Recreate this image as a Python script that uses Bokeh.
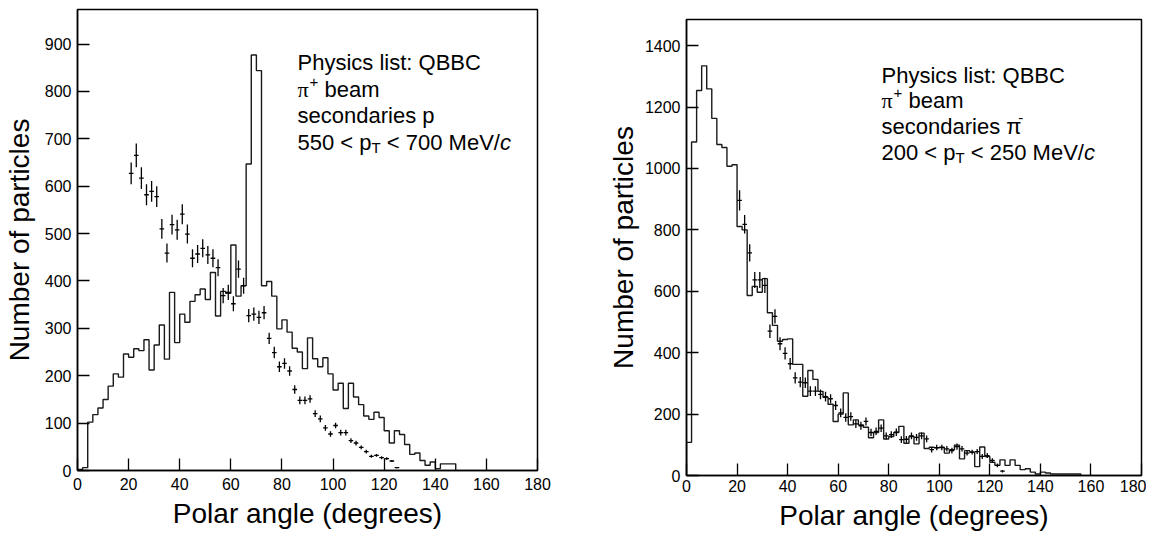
import numpy as np
from bokeh.plotting import figure
from bokeh.layouts import row, column
from bokeh.models import Range1d, FixedTicker, Spacer
from bokeh.core.properties import value
from bokeh.embed import file_html
from bokeh.resources import INLINE

FONT = "Liberation Sans"

# ---------------- data ----------------
bin_width = 2  # degrees

# left panel: simulation histogram (bins of 2 degrees starting at 0)
left_mc = [2, 6, 102, 118, 132, 150, 178, 204, 197, 246,
           239, 257, 253, 276, 212, 265, 307, 235, 376, 270,
           330, 313, 357, 371, 383, 361, 418, 326, 378, 374,
           476, 368, 390, 647, 877, 844, 390, 399, 368, 299,
           318, 292, 258, 250, 215, 280, 236, 219, 238, 204,
           170, 184, 131, 184, 155, 139, 115, 108, 123, 112,
           84, 58, 84, 76, 55, 34, 37, 21, 11, 18,
           4, 14, 14, 14]

# left panel: measured points
left_angle = list(range(21, 127, 2))
left_val = [627, 665, 617, 582, 589, 578, 510, 459, 519, 508,
            541, 499, 448, 457, 469, 455, 448, 428, 369, 376,
            352, 425, 390, 327, 330, 323, 333, 279, 249, 219,
            226, 210, 171, 148, 148, 151, 120, 109, 90, 77,
            95, 80, 80, 63, 58, 49, 40, 30, 32, 27,
            25, 20, 6]
left_err = [23, 25, 23, 22, 22, 22, 21, 20, 21, 21,
            21, 20, 19, 19, 19, 19, 19, 18, 16, 16,
            16, 18, 17, 14, 14, 14, 14, 12, 12, 11,
            11, 10, 9, 8, 8, 8, 7, 7, 6, 6,
            6, 6, 6, 5, 5, 4, 4, 3, 3, 3,
            3, 2, 1]

# right panel: simulation histogram
right_mc = [108, 1086, 1254, 1334, 1259, 1163, 1078, 1068, 1007, 1012,
            811, 800, 586, 616, 597, 641, 530, 489, 437, 443,
            445, 362, 362, 258, 342, 313, 274, 255, 232, 176,
            200, 269, 165, 181, 165, 157, 123, 140, 181, 119,
            127, 140, 160, 105, 127, 103, 138, 88, 92, 90,
            92, 73, 84, 99, 54, 81, 76, 29, 93, 62,
            43, 33, 51, 33, 51, 33, 19, 22, 11, 5,
            11, 8, 5, 5, 5, 5, 5, 5]

# right panel: measured points
right_angle = list(range(21, 127, 2))
right_val = [896, 818, 725, 637, 637, 619, 470, 518, 429, 398,
             364, 318, 304, 302, 275, 275, 264, 257, 250, 228,
             204, 189, 192, 168, 162, 176, 140, 144, 154, 129,
             133, 141, 117, 118, 129, 124, 129, 119, 84, 91,
             91, 87, 81, 94, 87, 73, 76, 78, 62, 65,
             49, 33, 14]
right_err = [33, 30, 28, 26, 26, 25, 22, 23, 21, 20,
             19, 18, 17, 17, 16, 16, 16, 16, 15, 15,
             14, 14, 14, 13, 13, 13, 12, 12, 12, 11,
             11, 12, 11, 11, 11, 11, 11, 11, 9, 9,
             9, 9, 9, 10, 9, 8, 8, 8, 8, 8,
             7, 6, 4]

x_ticks = [0, 20, 40, 60, 80, 100, 120, 140, 160, 180]
left_yticks = [0, 100, 200, 300, 400, 500, 600, 700, 800, 900]
right_yticks = [0, 200, 400, 600, 800, 1000, 1200, 1400]

# ---------------- text metrics (Arial/Liberation Sans, per 1000 em) ----------------
W = {' ': 278, '+': 584, '-': 333, '/': 278, ':': 278, '<': 584,
     'B': 667, 'C': 722, 'M': 833, 'P': 667, 'Q': 778, 'T': 611, 'V': 667,
     'a': 556, 'b': 556, 'c': 500, 'd': 556, 'e': 556, 'h': 556, 'i': 222,
     'l': 222, 'm': 833, 'n': 556, 'o': 556, 'p': 556, 'r': 333, 's': 500,
     't': 278, 'y': 500, 'π': 549}


def twidth(s, size):
    return sum(W.get(ch, 556) for ch in s) * size / 1000.0


def make_fig(frame, yr, yticks, bl, bt, br, bb, tick_standoff, xlab_standoff, ylab_standoff, lab_size):
    p = figure(frame_width=frame[2], frame_height=frame[3],
               x_range=Range1d(0, 180), y_range=Range1d(*yr),
               output_backend="svg", toolbar_location=None, title=None,
               min_border_left=bl, min_border_top=bt, min_border_right=br, min_border_bottom=bb,
               background_fill_color="white", border_fill_color="white")
    p.xgrid.visible = False
    p.ygrid.visible = False
    p.outline_line_color = "black"
    p.outline_line_width = 1.5
    p.outline_line_alpha = 1.0
    p.xaxis.ticker = FixedTicker(ticks=x_ticks)
    p.yaxis.ticker = FixedTicker(ticks=yticks)
    for ax in (p.xaxis[0], p.yaxis[0]):
        ax.major_tick_in = 12
        ax.major_tick_out = 0
        ax.minor_tick_in = 0
        ax.minor_tick_out = 0
        ax.axis_line_width = 1.5
        ax.axis_line_color = "black"
        ax.major_tick_line_width = 1.3
        ax.major_tick_line_color = "black"
        ax.major_label_text_font = FONT
        ax.major_label_text_font_size = "16px"
        ax.major_label_text_color = "black"
        ax.axis_label_text_font = FONT
        ax.axis_label_text_font_size = lab_size
        ax.axis_label_text_font_style = "normal"
        ax.axis_label_text_color = "black"
    p.xaxis.major_label_standoff = tick_standoff
    p.yaxis.major_label_standoff = 6
    p.xaxis.axis_label = "Polar angle (degrees)"
    p.yaxis.axis_label = "Number of particles"
    p.xaxis.axis_label_standoff = xlab_standoff
    p.yaxis.axis_label_standoff = ylab_standoff
    return p


def draw_hist(p, vals):
    edges = [i * bin_width for i in range(len(vals) + 1)]
    xs = [0] + edges
    ys = [0] + list(vals) + [0]
    p.step(xs, ys, mode="after", line_color="#1a1a1a", line_width=1.4)


def draw_points(p, ang, val, err):
    ang = np.array(ang, float)
    val = np.array(val, float)
    err = np.array(err, float)
    p.segment(ang, val - err, ang, val + err, line_color="black", line_width=1.3)
    p.segment(ang - 0.9, val, ang + 0.9, val, line_color="black", line_width=1.3)


def draw_label(p, frame, yr, x_px, y_px, runs):
    """runs: list of (text, size_px, raise_px, font, style); y_px = baseline (page px)."""
    fl, ft, fw, fh = frame
    xd = (x_px - fl) / fw * 180.0
    cur = 0.0
    for txt, size, rise, font, style in runs:
        lead = len(txt) - len(txt.lstrip(' '))
        cur += twidth(' ' * lead, size)
        body = txt.strip(' ')
        yd = yr[0] + (ft + fh - (y_px - rise)) / fh * (yr[1] - yr[0])
        p.text(x=[xd], y=[yd], text=[body], x_offset=cur,
               text_font=value(font), text_font_size=value(f"{size}px"),
               text_font_style=style, text_baseline="alphabetic", text_align="left",
               text_color="black")
        cur += twidth(body, size)
        trail = len(txt) - len(txt.rstrip(' '))
        cur += twidth(' ' * trail, size)


TS = 22
SS = 15

# ---------------- left panel ----------------
L_frame = (79, 9, 460, 461)       # page px: left, top, width, height
L_yr = (0, 973)
left = make_fig(L_frame, L_yr, left_yticks, bl=71, bt=9, br=67, bb=64,
                tick_standoff=7, xlab_standoff=5, ylab_standoff=7, lab_size="28px")
draw_hist(left, left_mc)
draw_points(left, left_angle, left_val, left_err)

lx = 299
draw_label(left, L_frame, L_yr, lx, 62, [("Physics list: QBBC", TS, 0, FONT, "normal")])
draw_label(left, L_frame, L_yr, lx, 89, [("π", TS, 0, "Liberation Serif", "normal"),
                                         ("+", SS, 8, FONT, "normal"),
                                         (" beam", TS, 0, FONT, "normal")])
draw_label(left, L_frame, L_yr, lx, 115, [("secondaries p", TS, 0, FONT, "normal")])
draw_label(left, L_frame, L_yr, lx, 142, [("550 < p", TS, 0, FONT, "normal"),
                                          ("T", SS, -5, FONT, "normal"),
                                          (" < 700 MeV/", TS, 0, FONT, "normal"),
                                          ("c", TS, 0, FONT, "italic")])

# ---------------- right panel ----------------
R_frame = (682, 19, 455, 456)
R_yr = (0, 1485)
right = make_fig(R_frame, R_yr, right_yticks, bl=76, bt=1, br=5, bb=59,
                 tick_standoff=4, xlab_standoff=5, ylab_standoff=3, lab_size="28px")
draw_hist(right, right_mc)
draw_points(right, right_angle, right_val, right_err)

rx = 877
draw_label(right, R_frame, R_yr, rx, 75, [("Physics list: QBBC", TS, 0, FONT, "normal")])
draw_label(right, R_frame, R_yr, rx, 100, [("π", TS, 0, "Liberation Serif", "normal"),
                                           ("+", SS, 8, FONT, "normal"),
                                           (" beam", TS, 0, FONT, "normal")])
draw_label(right, R_frame, R_yr, rx, 126, [("secondaries π", TS, 0, FONT, "normal"),
                                           ("-", SS, 9, FONT, "normal")])
draw_label(right, R_frame, R_yr, rx, 152, [("200 < p", TS, 0, FONT, "normal"),
                                           ("T", SS, -5, FONT, "normal"),
                                           (" < 250 MeV/", TS, 0, FONT, "normal"),
                                           ("c", TS, 0, FONT, "italic")])

layout = row(left, column(Spacer(width=1, height=18), right))
open("out.html", "w").write(file_html(layout, INLINE))
